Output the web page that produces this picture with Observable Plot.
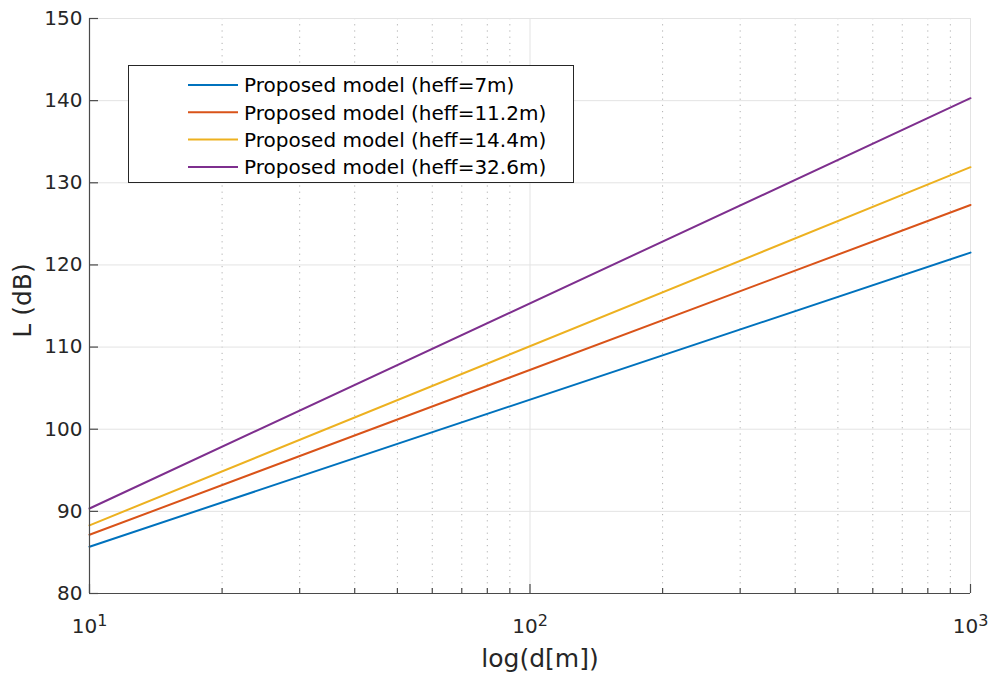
<!DOCTYPE html>
<html>
<head>
<meta charset="utf-8">
<script src="https://cdn.jsdelivr.net/npm/d3@7"></script>
<script src="https://cdn.jsdelivr.net/npm/@observablehq/plot@0.6"></script>
<style>
  html, body { margin: 0; padding: 0; background: #fff; }
  #chart { position: relative; width: 992px; height: 675px; }
</style>
</head>
<body>
<div id="chart"></div>
<script>
// ---- data ----
const distance = [10, 1000];
const seriesNames = [
  "Proposed model (heff=7m)",
  "Proposed model (heff=11.2m)",
  "Proposed model (heff=14.4m)",
  "Proposed model (heff=32.6m)"
];
const lossHeff7 = [85.7, 121.5];
const lossHeff11 = [87.15, 127.3];
const lossHeff14 = [88.3, 131.9];
const lossHeff32 = [90.35, 140.3];
const seriesColors = ["#0072BD", "#D95319", "#EDB120", "#7E2F8E"];
const yTicks = [80, 90, 100, 110, 120, 130, 140, 150];
const xTicks = [10, 100, 1000];
const xTickExp = ["1", "2", "3"];
const xMinor = [20, 30, 40, 50, 60, 70, 80, 90, 200, 300, 400, 500, 600, 700, 800, 900];

const allLoss = [lossHeff7, lossHeff11, lossHeff14, lossHeff32];
const rows = [];
allLoss.forEach((vals, i) => {
  distance.forEach((d, j) => rows.push({d, L: vals[j], s: seriesNames[i]}));
});

const axisColor = "#4a4a4a";
const font = "'DejaVu Sans', sans-serif";

const plot = Plot.plot({
  width: 992,
  height: 675,
  marginLeft: 89,
  marginRight: 22,
  marginTop: 18,
  marginBottom: 82,
  style: {fontFamily: font, fontSize: "20px", background: "#fff"},
  x: {type: "log", domain: [10, 1000]},
  y: {domain: [80, 150]},
  color: {domain: seriesNames, range: seriesColors},
  marks: [
    Plot.ruleX(xMinor, {stroke: "#b0b0b0", strokeWidth: 1, strokeDasharray: "1.2,5"}),
    Plot.ruleX(xTicks, {stroke: "#e3e3e3", strokeWidth: 1}),
    Plot.ruleY(yTicks, {stroke: "#e3e3e3", strokeWidth: 1}),
    Plot.line(rows, {x: "d", y: "L", z: "s", stroke: "s", strokeWidth: 2}),
    Plot.ruleX([10], {stroke: axisColor, strokeWidth: 1.2}),
    Plot.ruleY([80], {stroke: axisColor, strokeWidth: 1.2}),
    // labels
    Plot.axisY({ticks: yTicks, tickSize: 0, tickPadding: 7, fill: "#262626",
      fontSize: 20, label: null}),
    Plot.axisX({ticks: xTicks, tickSize: 0, tickPadding: 25, fill: "#262626",
      fontSize: 20, label: null, tickFormat: d => "10"}),
    // inward ticks
    Plot.axisY({ticks: yTicks, tickSize: 9, dx: 9, text: null, stroke: axisColor, strokeWidth: 1.2, label: null}),
    Plot.axisX({ticks: xTicks, tickSize: 9, dy: -9, text: null, stroke: axisColor, strokeWidth: 1.2, label: null}),
    Plot.axisX({ticks: xMinor, tickSize: 5, dy: -5, text: null, stroke: axisColor, strokeWidth: 1.2, label: null})
  ]
});

const svg = d3.select(plot);
// superscript exponents on x tick labels
svg.selectAll("g[aria-label='x-axis tick label'] text").each(function(d, i) {
  const t = d3.select(this);
  const base = t.text();
  t.text(null);
  t.append("tspan").text(base);
  t.append("tspan").attr("dy", -7).attr("font-size", 16).text(xTickExp[i] ?? "");
});

// axis titles
svg.append("text")
  .attr("x", 540).attr("y", 667)
  .attr("text-anchor", "middle")
  .attr("font-family", font).attr("font-size", 25).attr("fill", "#262626")
  .text("log(d[m])");
svg.append("text")
  .attr("transform", "translate(31,300.5) rotate(-90)")
  .attr("text-anchor", "middle")
  .attr("font-family", font).attr("font-size", 25).attr("fill", "#262626")
  .text("L (dB)");

// legend
const lg = svg.append("g");
lg.append("rect").attr("x", 128.5).attr("y", 65.5).attr("width", 445).attr("height", 117)
  .attr("fill", "#fff").attr("stroke", "#262626").attr("stroke-width", 1);
seriesNames.forEach((name, i) => {
  const cy = 85 + i * 27.3;
  lg.append("line").attr("x1", 188).attr("x2", 238).attr("y1", cy).attr("y2", cy)
    .attr("stroke", seriesColors[i]).attr("stroke-width", 2);
  lg.append("text").attr("x", 244).attr("y", cy).attr("dy", "0.36em")
    .attr("text-anchor", "start")
    .attr("font-family", font).attr("font-size", 20).attr("fill", "#000")
    .text(name);
});

document.getElementById("chart").appendChild(plot);
</script>
</body>
</html>
